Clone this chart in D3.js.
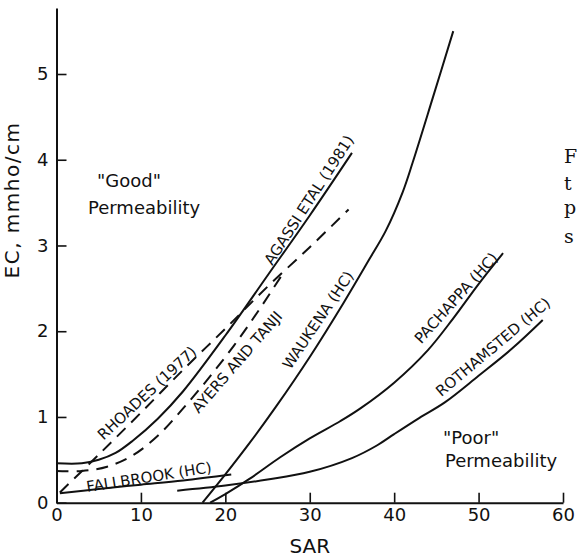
<!DOCTYPE html>
<html>
<head>
<meta charset="utf-8">
<script src="https://cdn.jsdelivr.net/npm/d3@7"></script>
<style>
  body { margin: 0; background: #fff; }
  text { font-family: "DejaVu Sans", sans-serif; fill: #111; }
</style>
</head>
<body>
<div id="chart"></div>
<script>
// EC vs SAR threshold curves, one [SAR, EC] list per curve
var agassi    = [[0,0.46],[3,0.46],[5,0.5],[7,0.58],[9,0.72],[12,0.98],[15,1.3],[20,1.95],[25,2.65],[30,3.35],[35,4.08]];
var rhoades   = [[0.4,0.12],[5,0.56],[10,1.05],[15,1.55],[20,2.03],[25,2.52],[30,2.98],[34.6,3.42]];
var ayers     = [[0,0.37],[3,0.37],[6,0.42],[9,0.55],[12,0.78],[15,1.1],[18,1.45],[21,1.83],[24,2.25],[27,2.7]];
var fallbrook = [[0.4,0.11],[5,0.16],[10,0.21],[15,0.26],[20.7,0.33]];
var waukena   = [[17.3,0],[20,0.33],[22.9,0.7],[26,1.12],[30,1.7],[34,2.33],[37,2.83],[39,3.17],[41,3.62],[42.2,3.97],[44.6,4.73],[47,5.5]];
var pachappa  = [[18.2,0],[20,0.1],[22.9,0.28],[26.5,0.53],[30,0.75],[33.6,0.95],[36,1.1],[40,1.4],[44,1.78],[47,2.15],[50,2.55],[52.9,2.91]];
var rothamsted= [[14.3,0.14],[20,0.2],[25,0.27],[30,0.36],[35,0.52],[38,0.67],[40,0.8],[43,0.99],[46,1.17],[50,1.48],[54,1.8],[57.6,2.13]];

var xTicks = [0,10,20,30,40,50,60];
var yTicks = [0,1,2,3,4,5];

var width = 577, height = 560;

var svg = d3.select("#chart")
    .append("svg")
    .attr("width", width)
    .attr("height", height)

var x = d3.scaleLinear().domain([0,60]).range([56.5,563]);
var y = d3.scaleLinear().domain([0,5]).range([502.7,74]);

// axes (ticks point inward)
var xAxis = svg.append("g")
    .attr("transform", "translate(0," + y(0) + ")")
    .call(d3.axisBottom(x).tickValues(xTicks).tickFormat(d3.format("d"))
        .tickSizeInner(-10).tickSizeOuter(0).tickPadding(6));
xAxis.selectAll(".tick line").filter(function(d) { return d == 0; }).remove();

var yTop = 5.77; // axis runs a bit past the last tick
var yAxis = svg.append("g")
    .attr("transform", "translate(" + x(0) + ",0)")
    .call(d3.axisLeft(y.copy().domain([0,yTop]).range([y(0), y(yTop)])).tickValues(yTicks)
        .tickFormat(d3.format("d")).tickSizeInner(-10).tickSizeOuter(0).tickPadding(8));

svg.selectAll(".domain").attr("stroke", "#111").attr("stroke-width", 2);
svg.selectAll(".tick line").attr("stroke", "#111").attr("stroke-width", 1.6);
svg.selectAll(".tick text").style("font-size", "18px").attr("fill", "#111");

// axis titles
svg.append("text")
    .attr("x", x(30))
    .attr("y", 553)
    .attr("text-anchor", "middle")
    .style("font-size", "20px")
    .text("SAR")

svg.append("text")
    .attr("transform", "translate(19,200) rotate(-90)")
    .attr("text-anchor", "middle")
    .style("font-size", "20px")
    .style("letter-spacing", "1.5px")
    .text("EC, mmho/cm")

// curves
var line = d3.line()
    .x(function(d) { return x(d[0]); })
    .y(function(d) { return y(d[1]); })
    .curve(d3.curveCatmullRom.alpha(0.5))

var curves = [
    {pts: agassi, dash: null},
    {pts: rhoades, dash: "12,8"},
    {pts: ayers, dash: "12,8"},
    {pts: fallbrook, dash: null},
    {pts: waukena, dash: null},
    {pts: pachappa, dash: null},
    {pts: rothamsted, dash: null}
];
curves.forEach(function(c) {
    svg.append("path")
        .attr("d", line(c.pts))
        .attr("fill", "none")
        .attr("stroke", "#111")
        .attr("stroke-width", 2)
        .attr("stroke-dasharray", c.dash)
});

// curve labels, placed along the lines
var curveLabels = [
    {t: "RHOADES (1977)", cx: 147, cy: 393, a: -43},
    {t: "AYERS AND TANJI", cx: 237, cy: 362, a: -49},
    {t: "AGASSI ETAL (1981)", cx: 309, cy: 200, a: -57},
    {t: "WAUKENA (HC)", cx: 318, cy: 320, a: -56},
    {t: "PACHAPPA (HC)", cx: 456, cy: 298, a: -48},
    {t: "ROTHAMSTED (HC)", cx: 493, cy: 347, a: -40},
    {t: "FALLBROOK (HC)", cx: 149, cy: 477, a: -9}
];
curveLabels.forEach(function(l) {
    svg.append("text")
        .attr("transform", "translate(" + l.cx + "," + l.cy + ") rotate(" + l.a + ")")
        .attr("text-anchor", "middle")
        .attr("dy", "0.35em")
        .style("font-size", "15px")
        .text(l.t)
});

// region notes
svg.append("text").attr("x", 97).attr("y", 187).style("font-size", "18px").text("\"Good\"");
svg.append("text").attr("x", 88).attr("y", 214).style("font-size", "18px").text("Permeability");
svg.append("text").attr("x", 443).attr("y", 444).style("font-size", "18px").text("\"Poor\"");
svg.append("text").attr("x", 445).attr("y", 467).style("font-size", "18px").text("Permeability");

// letters of the page caption that show at the right edge
var caption = [["F", 163], ["t", 190], ["p", 214], ["s", 243]];
caption.forEach(function(c) {
    svg.append("text")
        .attr("x", 564)
        .attr("y", c[1])
        .style("font-family", "'DejaVu Serif', serif")
        .style("font-size", "19px")
        .text(c[0])
});
</script>
</body>
</html>
